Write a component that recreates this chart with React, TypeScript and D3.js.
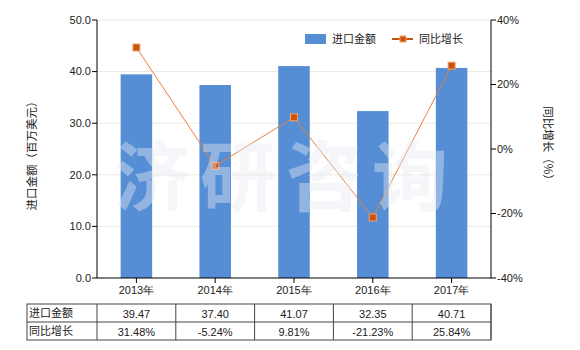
import React from "react";
import * as d3 from "d3";

const categories = ["2013年", "2014年", "2015年", "2016年", "2017年"];
const importValues = [39.47, 37.4, 41.07, 32.35, 40.71];
const growthValues = [31.48, -5.24, 9.81, -21.23, 25.84];
const leftTicks = [0, 10, 20, 30, 40, 50];
const rightTicks = [-40, -20, 0, 20, 40];
const importLabels = ["39.47", "37.40", "41.07", "32.35", "40.71"];
const growthLabels = ["31.48%", "-5.24%", "9.81%", "-21.23%", "25.84%"];
const seriesNames = ["进口金额", "同比增长"];

const W = 580;
const H = 350;
const L = 97;
const R = 491;
const T = 20;
const B = 278;
const numFont = "'Liberation Sans', Arial, sans-serif";
const cjkFont = "'Noto Sans CJK SC', sans-serif";

export default function App() {
  const x = d3.scaleBand<string>().domain(categories).range([L, R]);
  const yL = d3.scaleLinear().domain([0, 50]).range([B, T]);
  const yR = d3.scaleLinear().domain([-40, 40]).range([B, T]);
  const bw = x.bandwidth() * 0.4;
  const cx = (c: string) => (x(c) as number) + x.bandwidth() / 2;
  const line = d3
    .line<number>()
    .x((_, i) => cx(categories[i]))
    .y((d) => yR(d));

  const tTop = 304;
  const rowH = 18;
  const firstColL = 27;

  return (
    <svg
      width={W}
      height={H}
      style={{ position: "absolute", left: 0, top: 0, background: "#fff" }}
    >
      {/* grid */}
      {leftTicks.slice(1).map((t) => (
        <line key={"g" + t} x1={L} x2={R} y1={yL(t)} y2={yL(t)} stroke="#ebebdd" strokeWidth={1} />
      ))}
      {/* bars */}
      {importValues.map((v, i) => (
        <rect
          key={"b" + i}
          x={cx(categories[i]) - bw / 2}
          y={yL(v)}
          width={bw}
          height={B - yL(v)}
          fill="#558ed5"
        />
      ))}
      {/* line */}
      <path d={line(growthValues) || ""} fill="none" stroke="#e8803f" strokeWidth={1} />
      {growthValues.map((v, i) => (
        <rect
          key={"m" + i}
          x={cx(categories[i]) - 3.5}
          y={yR(v) - 3.5}
          width={7}
          height={7}
          fill="#c8520f"
          stroke="#f2a46c"
          strokeWidth={1}
        />
      ))}
      {/* watermark */}
      <text
        x={(L + R) / 2 - 8}
        y={205}
        textAnchor="middle"
        fontFamily={cjkFont}
        fontWeight="bold"
        fontSize={76}
        letterSpacing={10}
        fill="#e4eaf4"
        fillOpacity={0.42}
      >
        济研咨询
      </text>
      {/* axes */}
      <line x1={L} x2={L} y1={T} y2={B} stroke="#000" />
      <line x1={R} x2={R} y1={T} y2={B} stroke="#000" />
      <line x1={L} x2={R} y1={B} y2={B} stroke="#000" />
      {leftTicks.map((t) => (
        <g key={"lt" + t}>
          <line x1={L - 5} x2={L} y1={yL(t)} y2={yL(t)} stroke="#000" />
          <text x={L - 6} y={yL(t)} dy="0.35em" textAnchor="end" fontFamily={numFont} fontSize={11} fill="#222">
            {t.toFixed(1)}
          </text>
        </g>
      ))}
      {rightTicks.map((t) => (
        <g key={"rt" + t}>
          <line x1={R} x2={R + 5} y1={yR(t)} y2={yR(t)} stroke="#000" />
          <text x={R + 6} y={yR(t)} dy="0.35em" textAnchor="start" fontFamily={numFont} fontSize={11} fill="#222">
            {t + "%"}
          </text>
        </g>
      ))}
      {categories.map((c) => (
        <g key={"xt" + c}>
          <line x1={cx(c)} x2={cx(c)} y1={B} y2={B + 5} stroke="#000" />
          <text x={cx(c)} y={290} dy="0.35em" textAnchor="middle" fontFamily={numFont} fontSize={11} fill="#222">
            {c}
          </text>
        </g>
      ))}
      {/* axis titles */}
      <text
        transform={`translate(32,153) rotate(-90)`}
        textAnchor="middle"
        dy="0.35em"
        fontFamily={cjkFont}
        fontSize={11.5}
        fill="#222"
      >
        进口金额（百万美元）
      </text>
      <text
        transform={`translate(548,146) rotate(90)`}
        textAnchor="middle"
        dy="0.35em"
        fontFamily={cjkFont}
        fontSize={11.5}
        fill="#222"
      >
        同比增长（%）
      </text>
      {/* legend */}
      <rect x={305} y={34} width={21} height={10} fill="#558ed5" />
      <text x={332} y={39} dy="0.35em" fontFamily={cjkFont} fontSize={11} fill="#222">
        {seriesNames[0]}
      </text>
      <line x1={392} x2={413} y1={39} y2={39} stroke="#c8520f" strokeWidth={2} />
      <rect x={400} y={36} width={6} height={6} fill="#c8520f" stroke="#f2a46c" strokeWidth={1} />
      <text x={419} y={39} dy="0.35em" fontFamily={cjkFont} fontSize={11} fill="#222">
        {seriesNames[1]}
      </text>
      {/* table */}
      <g>
        <rect x={firstColL} y={tTop} width={R - firstColL} height={rowH * 2} fill="none" stroke="#444" />
        <line x1={firstColL} x2={R} y1={tTop + rowH} y2={tTop + rowH} stroke="#444" />
        <line x1={L} x2={L} y1={tTop} y2={tTop + rowH * 2} stroke="#444" />
        {categories.map((c) => (
          <line key={"tc" + c} x1={(x(c) as number) + x.bandwidth()} x2={(x(c) as number) + x.bandwidth()} y1={tTop} y2={tTop + rowH * 2} stroke="#444" />
        ))}
        <text x={firstColL + 2} y={tTop + rowH / 2} dy="0.35em" fontFamily={cjkFont} fontSize={11} fill="#222">
          {seriesNames[0]}
        </text>
        <text x={firstColL + 2} y={tTop + rowH * 1.5} dy="0.35em" fontFamily={cjkFont} fontSize={11} fill="#222">
          {seriesNames[1]}
        </text>
        {categories.map((c, i) => (
          <g key={"tv" + c}>
            <text x={cx(c)} y={tTop + rowH / 2 + 1} dy="0.35em" textAnchor="middle" fontFamily={numFont} fontSize={11} fill="#222">
              {importLabels[i]}
            </text>
            <text x={cx(c)} y={tTop + rowH * 1.5 + 1} dy="0.35em" textAnchor="middle" fontFamily={numFont} fontSize={11} fill="#222">
              {growthLabels[i]}
            </text>
          </g>
        ))}
      </g>
    </svg>
  );
}
